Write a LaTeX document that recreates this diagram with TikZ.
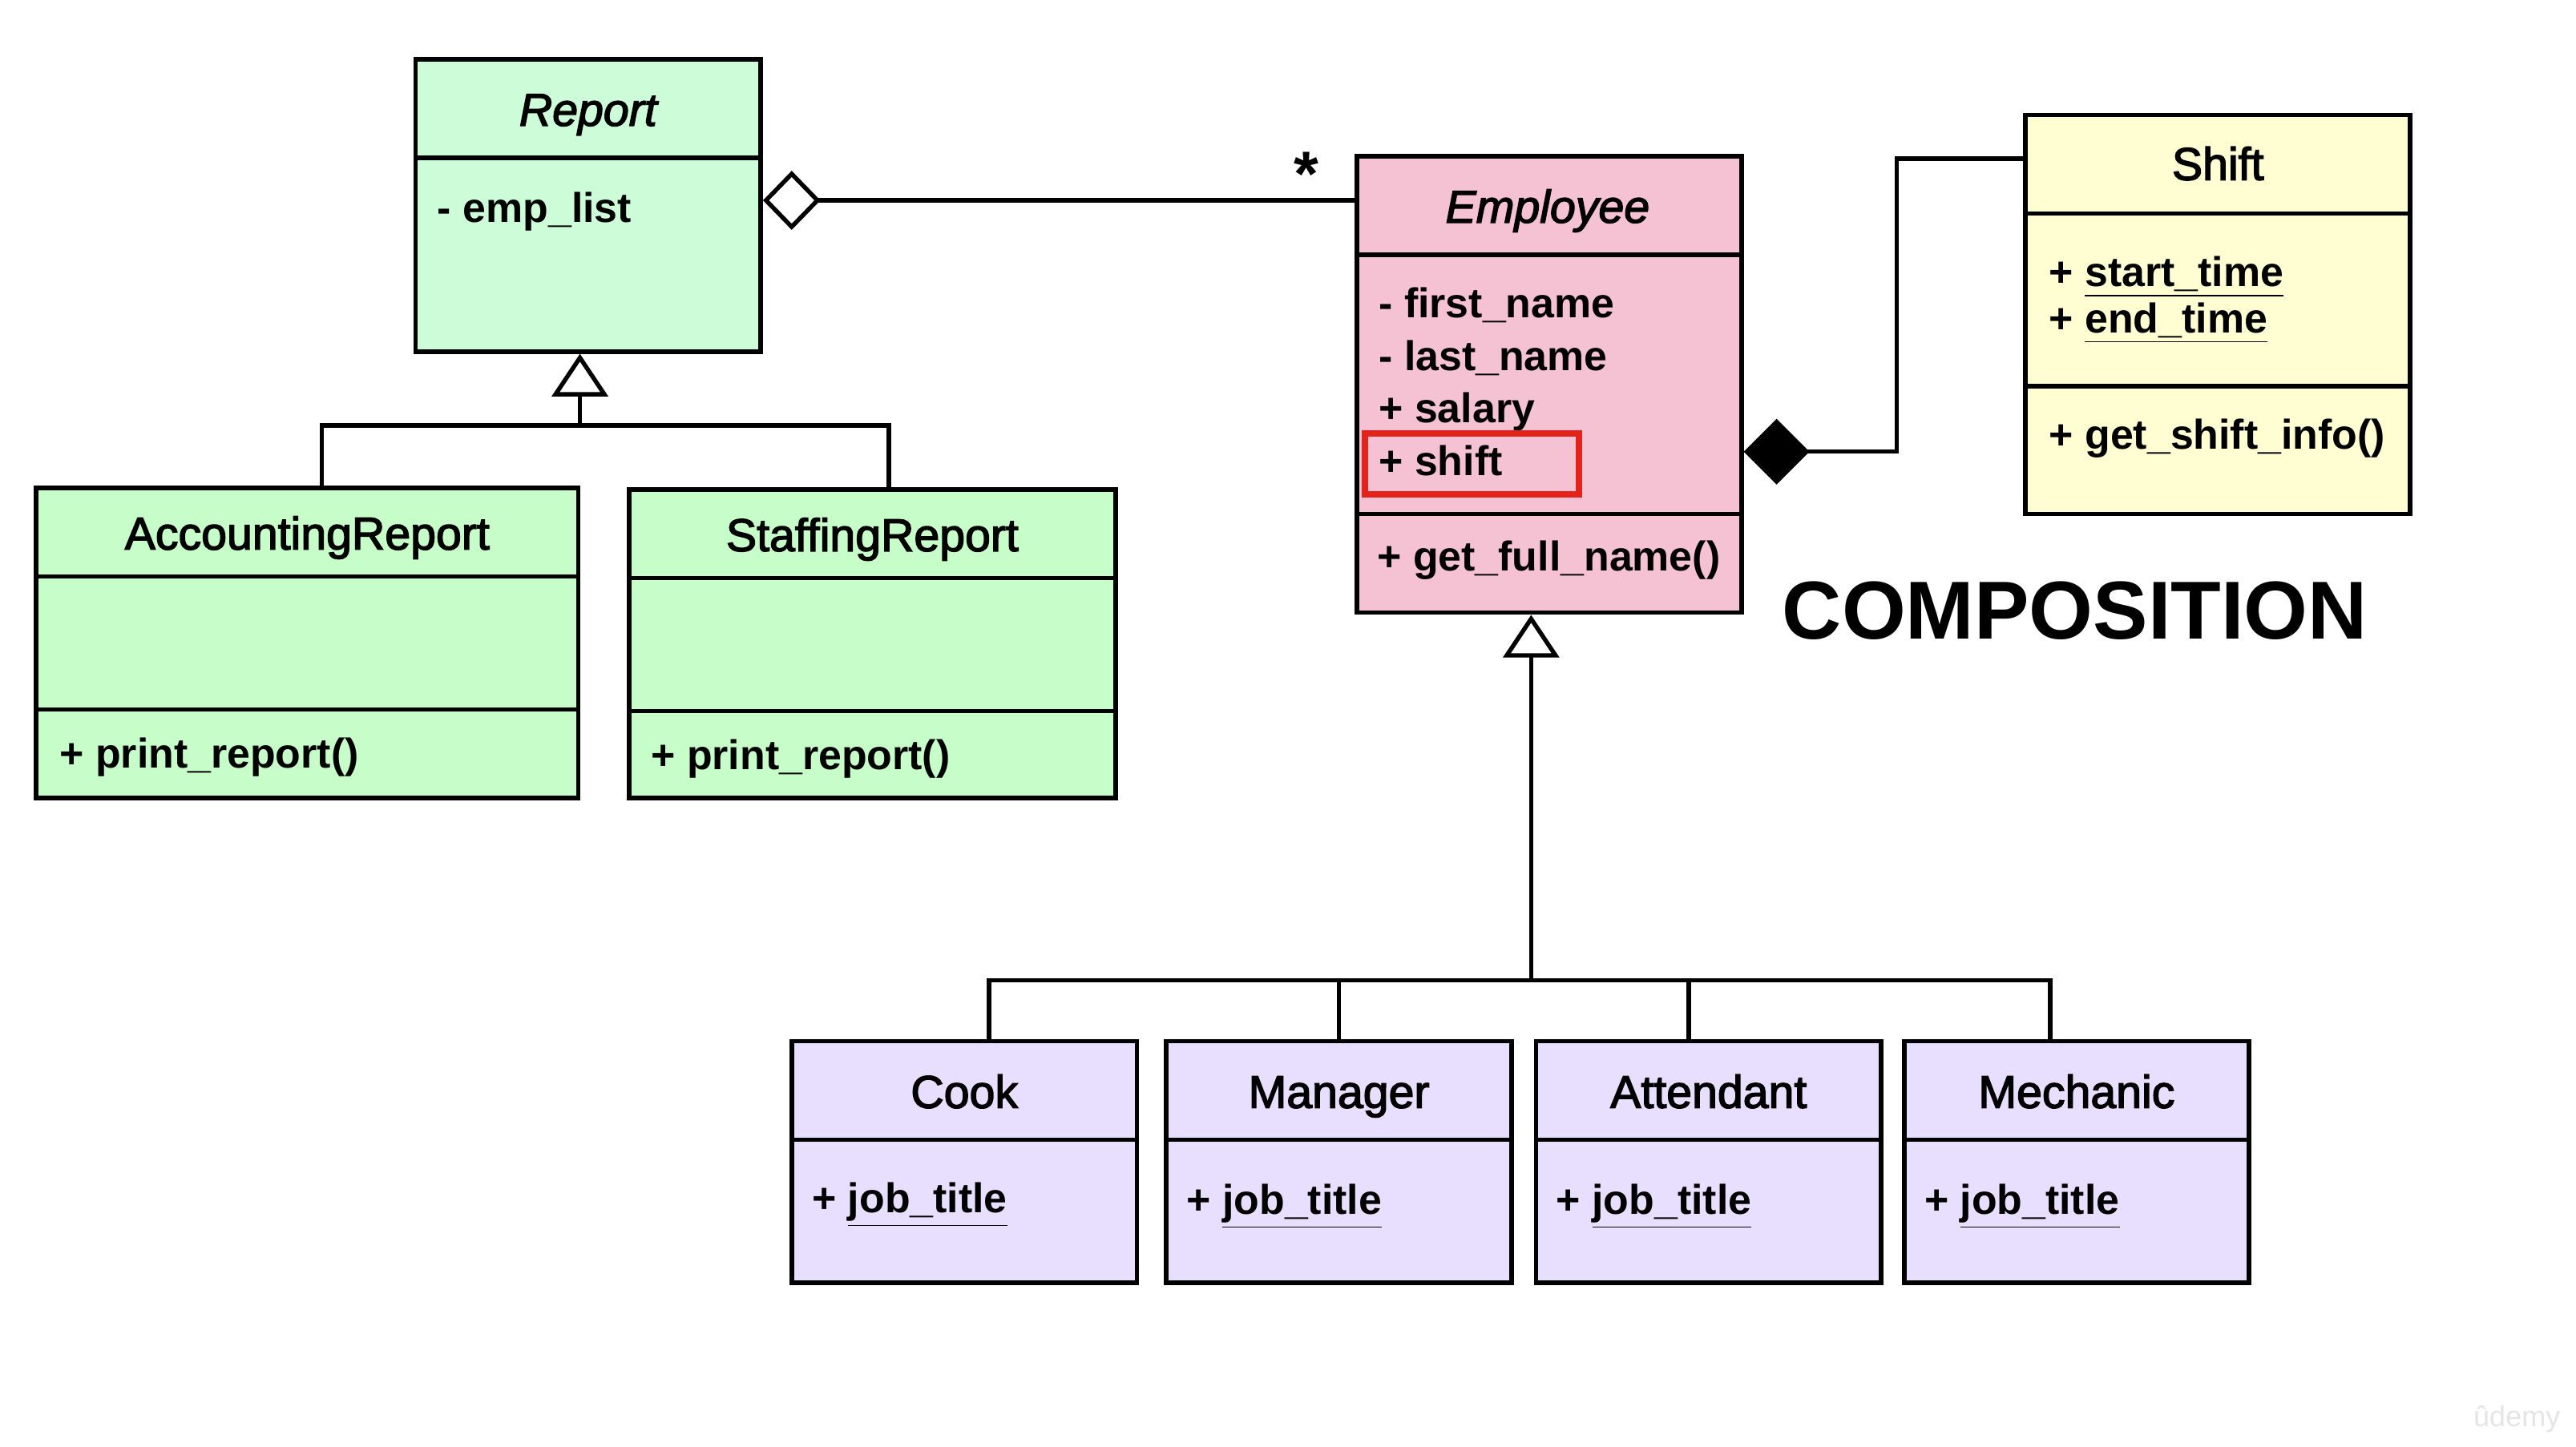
\documentclass[tikz,border=0pt]{standalone}
\usepackage{fontspec}
\setmainfont{Liberation Sans}
\newfontfamily\hdrfont{Liberation Sans}[FakeBold=2.5]
\usetikzlibrary{arrows.meta,fit}
\definecolor{repfill}{HTML}{CCFDD8}
\definecolor{subfill}{HTML}{C7FDC8}
\definecolor{empfill}{HTML}{F4C2D3}
\definecolor{shiftfill}{HTML}{FEFED2}
\definecolor{kidfill}{HTML}{E8DEFD}
\definecolor{hlred}{HTML}{E32219}
\tikzset{
  cls/.style={draw=black, line width=1.6pt, inner sep=0pt},
  div/.style={line width=1.6pt},
  conn/.style={line width=1.5pt},
  hdr/.style={font=\hdrfont\fontsize{15.9}{19}\selectfont, inner sep=0pt, text height=0.72em, text depth=0.2em},
  ihdr/.style={hdr, font=\hdrfont\itshape\fontsize{15.9}{19}\selectfont},
  attr/.style={font=\bfseries\fontsize{14.4}{17}\selectfont, anchor=west, inner sep=0pt, text height=0.72em, text depth=0.2em},
  gen/.style={conn, -{Triangle[open, length=0.52cm, width=0.68cm, line width=1.5pt]}},
}
\begin{document}
\begin{tikzpicture}[x=0.02cm, y=-0.02cm]
\useasboundingbox[fill=white] (0,0) rectangle (1568,881);

% ---------- Report ----------
\node[cls, fill=repfill, fit={(253,36)(463,214)}] (report) {};
\draw[div] (253,96) -- (463,96);
\node[ihdr] (rep-name) at (358,72) {Report};
\node[attr] (rep-a1) at (266,131) {- emp\_list};

% ---------- AccountingReport ----------
\node[cls, fill=subfill, fit={(22,297)(352,486)}] (acc) {};
\draw[div] (22,351) -- (352,351);
\draw[div] (22,432) -- (352,432);
\node[hdr] (acc-name) at (187,330) {AccountingReport};
\node[attr] (acc-m1) at (36,463) {+ print\_report()};

% ---------- StaffingReport ----------
\node[cls, fill=subfill, fit={(383,298)(679,486)}] (staff) {};
\draw[div] (383,352) -- (679,352);
\draw[div] (383,433) -- (679,433);
\node[hdr] (staff-name) at (531,331) {StaffingReport};
\node[attr] (staff-m1) at (396,464) {+ print\_report()};

% ---------- Employee ----------
\node[cls, fill=empfill, fit={(826,95)(1060,373)}] (employee) {};
\draw[div] (826,155) -- (1060,155);
\draw[div] (826,313) -- (1060,313);
\node[ihdr] (emp-name) at (942,131) {Employee};
\node[attr] (emp-a1) at (839,189) {- first\_name};
\node[attr] (emp-a2) at (839,221) {- last\_name};
\node[attr] (emp-a3) at (839,253) {+ salary};
\node[attr] (emp-a4) at (839,285) {+ shift};
\node[draw=hlred, line width=2.2pt, inner sep=0pt, fit={(831,264)(961,301)}] (hl) {};
\node[attr] (emp-m1) at (838,343) {+ get\_full\_name()};

% ---------- Shift ----------
\node[cls, fill=shiftfill, fit={(1233,70)(1467,313)}] (shift) {};
\draw[div] (1233,130) -- (1467,130);
\draw[div] (1233,235) -- (1467,235);
\node[hdr] (shift-name) at (1350,105) {Shift};
\node[attr] (shift-a1) at (1247,170) {+ \underline{start\_time}};
\node[attr] (shift-a2) at (1247,198) {+ \underline{end\_time}};
\node[attr] (shift-m1) at (1247,269) {+ get\_shift\_info()};

% ---------- subclasses of Employee ----------
\node[cls, fill=kidfill, fit={(482,634)(692,781)}] (cook) {};
\draw[div] (482,694) -- (692,694);
\node[hdr] (cook-name) at (587,670) {Cook};
\node[attr] (cook-a1) at (494,734) {+ \underline{job\_title}};

\node[cls, fill=kidfill, fit={(710,634)(920,781)}] (man) {};
\draw[div] (710,694) -- (920,694);
\node[hdr] (man-name) at (815,670) {Manager};
\node[attr] (man-a1) at (722,735) {+ \underline{job\_title}};

\node[cls, fill=kidfill, fit={(935,634)(1145,781)}] (att) {};
\draw[div] (935,694) -- (1145,694);
\node[hdr] (att-name) at (1040,670) {Attendant};
\node[attr] (att-a1) at (947,735) {+ \underline{job\_title}};

\node[cls, fill=kidfill, fit={(1159,634)(1369,781)}] (mech) {};
\draw[div] (1159,694) -- (1369,694);
\node[hdr] (mech-name) at (1264,670) {Mechanic};
\node[attr] (mech-a1) at (1171,735) {+ \underline{job\_title}};

% ---------- labels ----------
\node[font=\bfseries\fontsize{22}{24}\selectfont, inner sep=0pt] (star) at (795,106) {*};
\node[font=\bfseries\fontsize{28.5}{34}\selectfont, inner sep=0pt] (comp) at (1263,372) {COMPOSITION};
\node[text=black!10, font=\fontsize{10}{12}\selectfont, inner sep=0pt] (wm) at (1532,864) {ûdemy};

% ---------- aggregation ----------
\coordinate (agg-s) at ([yshift=0.06cm]report.east);
\draw[conn, {Diamond[open, length=0.7cm, width=0.72cm, line width=1.5pt]}-] (agg-s) -- (agg-s -| employee.west);

% ---------- composition ----------
\coordinate (shift-in) at ([yshift=-0.56cm]shift.north west);
\draw[conn, {Diamond[length=0.8cm, width=0.8cm]}-] ([yshift=-0.82cm]employee.east) -- ++(1.86cm,0) |- (shift-in);

% ---------- generalization: Report ----------
\coordinate (rbus) at (353,259);
\draw[gen] (rbus) -- (rbus |- report.south);
\draw[conn] ([xshift=0.18cm]acc.north) |- (rbus) -| ([xshift=0.2cm]staff.north);

% ---------- generalization: Employee ----------
\coordinate (ebus) at (932,597);
\draw[gen] (ebus) -- (ebus |- employee.south);
\draw[conn] ([xshift=0.3cm]cook.north) |- (ebus) -| ([xshift=-0.32cm]mech.north);
\draw[conn] (man.north) -- (man.north |- ebus);
\coordinate (attx) at ([xshift=-0.24cm]att.north);
\draw[conn] (attx) -- (attx |- ebus);
\end{tikzpicture}
\end{document}
